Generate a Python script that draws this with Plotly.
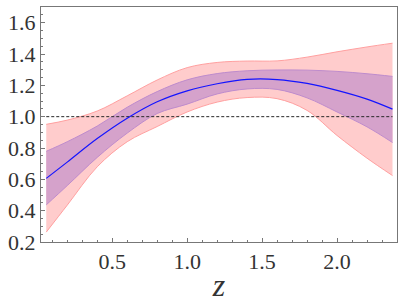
import plotly.graph_objects as go

z = [0.06, 0.2, 0.4, 0.6, 0.8, 1.0, 1.2, 1.4, 1.6, 1.8, 2.0, 2.2, 2.37]
center = [0.606, 0.71, 0.86, 0.99, 1.095, 1.165, 1.21, 1.238, 1.237, 1.212, 1.168, 1.112, 1.048]
inner_upper = [0.779, 0.84, 0.94, 1.06, 1.16, 1.235, 1.275, 1.293, 1.298, 1.297, 1.289, 1.274, 1.257]
inner_lower = [0.437, 0.56, 0.74, 0.895, 1.02, 1.08, 1.145, 1.177, 1.174, 1.12, 1.03, 0.935, 0.835]
outer_upper = [0.951, 0.978, 1.036, 1.133, 1.234, 1.313, 1.346, 1.355, 1.356, 1.38, 1.414, 1.445, 1.469]
outer_lower = [0.263, 0.435, 0.68, 0.84, 0.937, 1.03, 1.093, 1.122, 1.115, 1.04, 0.88, 0.735, 0.624]
ref_x = [0.06, 2.37]
ref_y = [1.0, 1.0]

x_ticks = [0.5, 1.0, 1.5, 2.0]
x_ticklabels = ["0.5", "1.0", "1.5", "2.0"]
y_ticks = [0.2, 0.4, 0.6, 0.8, 1.0, 1.2, 1.4, 1.6]
y_ticklabels = ["0.2", "0.4", "0.6", "0.8", "1.0", "1.2", "1.4", "1.6"]

SERIF = "Liberation Serif"

fig = go.Figure()
fig.add_trace(go.Scatter(x=z, y=outer_lower, mode="lines", line=dict(color="rgb(255,160,160)", width=1, shape="spline"), showlegend=False))
fig.add_trace(go.Scatter(x=z, y=outer_upper, mode="lines", fill="tonexty", fillcolor="rgb(255,204,204)",
                         line=dict(color="rgb(255,160,160)", width=1, shape="spline"), showlegend=False))
fig.add_trace(go.Scatter(x=z, y=inner_lower, mode="lines", line=dict(color="rgb(190,140,205)", width=1, shape="spline"), showlegend=False))
fig.add_trace(go.Scatter(x=z, y=inner_upper, mode="lines", fill="tonexty", fillcolor="rgb(213,162,203)",
                         line=dict(color="rgb(190,140,205)", width=1, shape="spline"), showlegend=False))
fig.add_trace(go.Scatter(x=ref_x, y=ref_y, mode="lines", line=dict(color="rgb(40,40,40)", width=1, dash="3px,2px"), showlegend=False))
fig.add_trace(go.Scatter(x=z, y=center, mode="lines", line=dict(color="rgb(20,20,255)", width=1.2, shape="spline"), showlegend=False))

axis_common = dict(
    showgrid=False, zeroline=False, showline=True, linecolor="#777", linewidth=1, mirror=True,
    ticks="inside", ticklen=4, tickcolor="#777",
    tickfont=dict(family=SERIF, size=22, color="#333"),
)
fig.update_xaxes(range=[0.025, 2.4], tickvals=x_ticks, ticktext=x_ticklabels,
                 minor=dict(dtick=0.1, tick0=0, ticks="inside", ticklen=2, tickcolor="#777"),
                 title=dict(text="z", font=dict(family=SERIF, size=32, color="#333", style="italic"), standoff=0),
                 **axis_common)
fig.update_yaxes(range=[0.2, 1.7], tickvals=y_ticks, ticktext=y_ticklabels,
                 minor=dict(dtick=0.05, tick0=0, ticks="inside", ticklen=2, tickcolor="#777"),
                 **axis_common)
fig.update_layout(width=405, height=304, margin=dict(l=41, r=8, t=7, b=62),
                  paper_bgcolor="white", plot_bgcolor="white",
                  font=dict(family=SERIF))
fig.write_html("out.html", config={"displayModeBar": False},
               post_script="document.body.style.margin='0';")
